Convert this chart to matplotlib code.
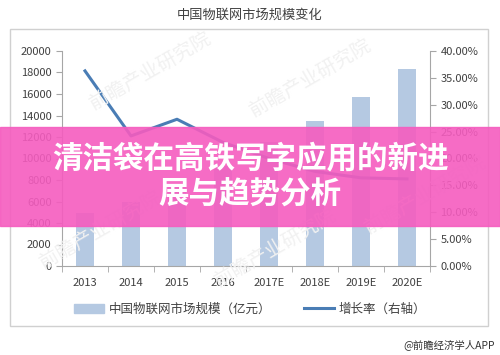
import numpy as np
import matplotlib
matplotlib.use('Agg')
import matplotlib.pyplot as plt
from matplotlib.patches import Rectangle
from matplotlib.lines import Line2D

plt.rcParams['font.family'] = ['Noto Sans CJK SC', 'DejaVu Sans']

# data
years = ['2013', '2014', '2015', '2016', '2017E', '2018E', '2019E', '2020E']
market = [4896, 6000, 7500, 9300, 11500, 13500, 15700, 18300]   # 亿元
growth = [36.3, 24.2, 27.3, 23.0, 20.0, 17.6, 16.4, 16.2]        # %
left_ticks = list(range(0, 20001, 2000))
right_ticks = [0, 5, 10, 15, 20, 25, 30, 35, 40]

bar_color = '#B5C9E2'
line_color = '#4A7DB5'
axis_color = '#A6A6A6'
text_color = '#404040'

fig = plt.figure(figsize=(5, 3.55), dpi=100)

# outer frame of the chart
fig.patches.append(Rectangle((10 / 500, 1 - 326 / 355), 478 / 500, 297 / 355,
                             transform=fig.transFigure, fill=False,
                             edgecolor='#D0D0D0', lw=1.0))

fig.text(0.5, 1 - 15 / 355, '中国物联网市场规模变化', ha='center', va='center',
         fontsize=9.5, color=text_color)

ax = fig.add_axes([62 / 500, 1 - 266 / 355, 368 / 500, 215 / 355])
x = np.arange(len(years))
ax.bar(x, market, width=0.4, color=bar_color, zorder=2)
ax.set_xlim(-0.5, len(years) - 0.5)
ax.set_ylim(0, 20000)
ax.set_yticks(left_ticks)
ax.set_xticks(x)
ax.set_xticklabels(years)
ax.set_xticks(np.arange(-0.5, len(years)), minor=True)
ax.tick_params(axis='x', which='major', length=0, pad=9, labelsize=8, colors=text_color)
ax.tick_params(axis='x', which='minor', length=4, color=axis_color)
ax.tick_params(axis='y', length=4, color=axis_color, labelsize=8, labelcolor=text_color)
for s in ['top', 'right']:
    ax.spines[s].set_visible(False)
for s in ['left', 'bottom']:
    ax.spines[s].set_color(axis_color)

ax2 = ax.twinx()
ax2.plot(x, growth, color=line_color, lw=2.2, zorder=3)
ax2.set_ylim(0, 40)
ax2.set_yticks(right_ticks)
ax2.set_yticklabels(['%.2f%%' % t for t in right_ticks])
ax2.tick_params(axis='y', length=4, color=axis_color, labelsize=8, labelcolor=text_color)
for s in ['top', 'left', 'bottom']:
    ax2.spines[s].set_visible(False)
ax2.spines['right'].set_color(axis_color)

# legend
handles = [Rectangle((0, 0), 1, 1, color=bar_color),
           Line2D([0], [0], color=line_color, lw=2.2)]
fig.legend(handles, ['中国物联网市场规模（亿元）', '增长率（右轴）'],
           loc='center', bbox_to_anchor=(0.5, 1 - 309 / 355), ncol=2,
           frameon=False, fontsize=9, handlelength=2.4, handletextpad=0.4,
           columnspacing=2.6, labelcolor=text_color)

# faint watermarks
for wx, wy in [(0.3, 0.8), (0.62, 0.78), (0.2, 0.35), (0.55, 0.3), (0.85, 0.45)]:
    fig.text(wx, wy, '前瞻产业研究院', fontsize=14, color='#F1F1F1', rotation=30,
             ha='center', va='center', zorder=0)

# pink banner with headline
fig.patches.append(Rectangle((0, 1 - 226 / 355), 1, 99 / 355,
                             transform=fig.transFigure, color='#F55CBF',
                             alpha=0.9, zorder=10))
fig.text(0.5, 1 - 158 / 355, '清洁袋在高铁写字应用的新进', ha='center', va='center',
         fontsize=22, fontweight='bold', color='white', zorder=11)
fig.text(0.5, 1 - 195 / 355, '展与趋势分析', ha='center', va='center',
         fontsize=22, fontweight='bold', color='white', zorder=11)

fig.text(0.99, 1 - 345 / 355, '@前瞻经济学人APP', ha='right', va='center',
         fontsize=7.5, color='#333333')

fig.savefig('out.png', dpi=100)
